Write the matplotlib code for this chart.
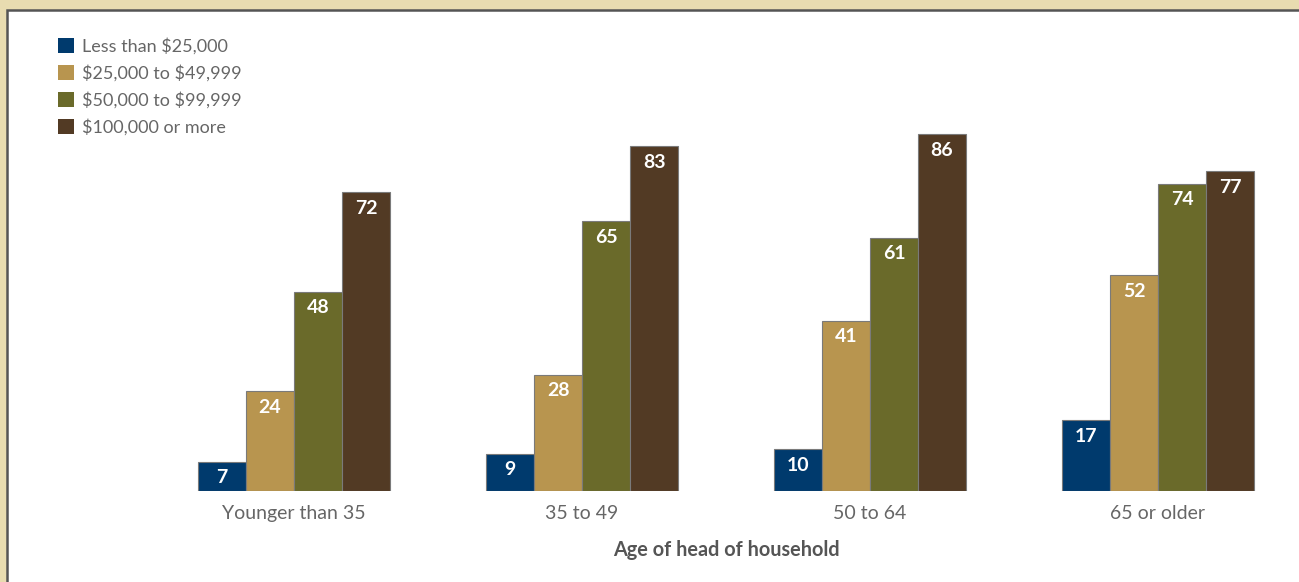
import matplotlib
matplotlib.use("Agg")
import matplotlib.pyplot as plt
from matplotlib.patches import Rectangle
import numpy as np

plt.rcParams['font.family'] = ['Lato', 'DejaVu Sans']

groups = ["Younger than 35", "35 to 49", "50 to 64", "65 or older"]
series = ["Less than $25,000", "$25,000 to $49,999", "$50,000 to $99,999", "$100,000 or more"]
less_25k = [7, 9, 10, 17]
k25_50k = [24, 28, 41, 52]
k50_100k = [48, 65, 61, 74]
k100k_plus = [72, 83, 86, 77]
values = [less_25k, k25_50k, k50_100k, k100k_plus]
colors = ["#003a6d", "#b8954f", "#6a6a2a", "#523a24"]
xlabel = "Age of head of household"

W, H = 1299, 582
fig = plt.figure(figsize=(W / 100, H / 100), dpi=100)
fig.patch.set_facecolor("#e8dcb0")

# white panel with border
fig.patches.append(Rectangle((7 / W, -0.1), 1.1, (H - 10) / H + 0.1, transform=fig.transFigure,
                             facecolor="white", edgecolor="#555555", linewidth=1.8, zorder=-10))

base_px = 491
top_px = 10
ppu = 357 / 86.0
ax = fig.add_axes([0, (H - base_px) / H, 1, (base_px - top_px) / H])
ax.set_facecolor("none")
ax.set_zorder(5)
ax.set_ylim(0, (base_px - top_px) / ppu)
ax.set_xlim((0 - 294) / 288, (W - 294) / 288)

x = np.arange(len(groups))
bw = 48 / 288
for i, (vals, c, name) in enumerate(zip(values, colors, series)):
    xs = x + (i - 1.5) * bw
    ax.bar(xs, vals, width=bw, color=c, edgecolor="#7a7a7a", linewidth=0.8,
           label=name.replace("$", r"\$"))
    for xi, v in zip(xs, vals):
        ax.text(xi, v - 16 / ppu, str(v), ha="center", va="center", color="white",
                fontsize=14, fontweight="bold")

for s in ax.spines.values():
    s.set_visible(False)
ax.set_yticks([])
ax.set_xticks(x)
ax.set_xticklabels(groups, fontsize=14, color="#666666")
ax.tick_params(axis="x", length=0, pad=10)
ax.set_xlabel(xlabel, fontsize=14.3, fontweight="bold", color="#555555")
ax.xaxis.set_label_coords(726 / W, -(550 - base_px) / (base_px - top_px))
ax.xaxis.label.set_va("center")

leg = ax.legend(loc="upper left", bbox_to_anchor=(51 / W, 1 - 21 / (base_px - top_px)),
                frameon=False, fontsize=13, handlelength=0.9, handleheight=0.9,
                handletextpad=0.4, labelspacing=0.55, borderaxespad=0)
for t in leg.get_texts():
    t.set_color("#666666")
for h in leg.legend_handles:
    h.set_edgecolor("none")

fig.savefig("out.png", dpi=100, facecolor=fig.get_facecolor())
